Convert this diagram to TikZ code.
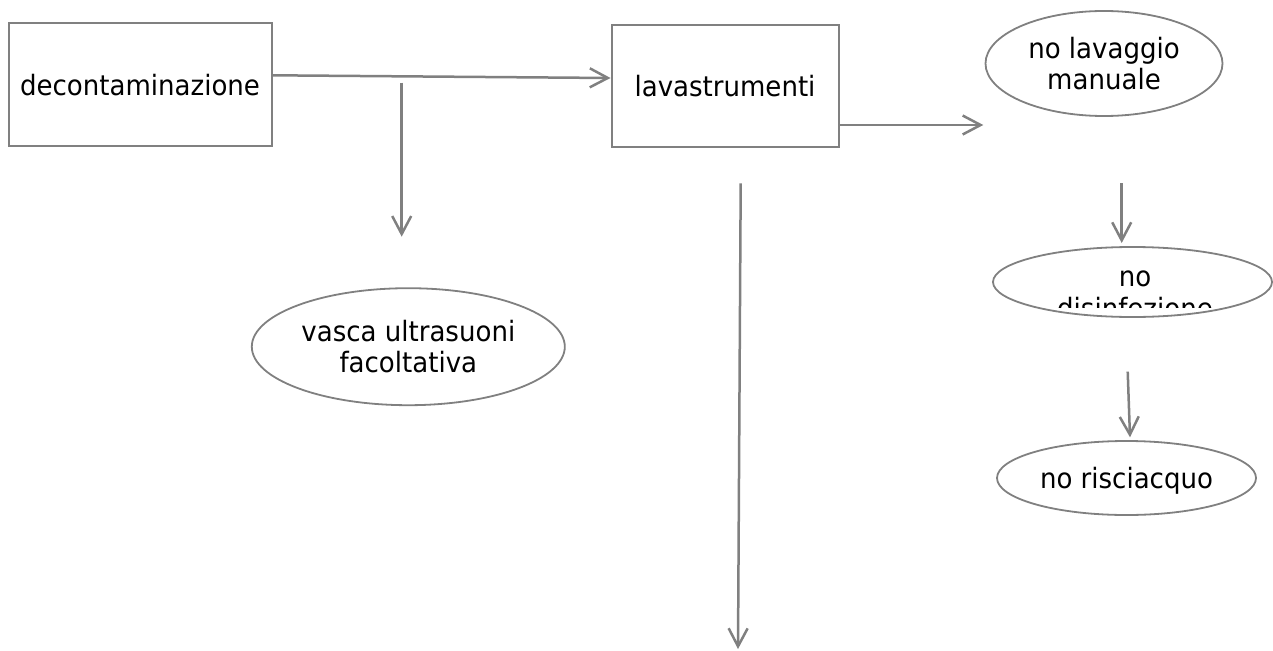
\documentclass[tikz,border=0pt]{standalone}
\usepackage{fontspec}
\setmainfont[FakeStretch=0.93]{DejaVu Sans}
\usetikzlibrary{arrows.meta,
	shapes}
\definecolor{lineg}{RGB}{128,128,128}

\begin{document}
\begin{tikzpicture}[x=1pt,y=-1pt]
    \tikzstyle{box}=[rectangle,draw=lineg,line width=2pt,inner sep=0pt,font=\fontsize{28}{31.6}\selectfont]
    \tikzstyle{oval}=[ellipse,draw=lineg,line width=1.8pt,inner sep=0pt,align=center,font=\fontsize{28}{31.6}\selectfont]
    \tikzstyle{txt}=[inner sep=0pt,align=center,font=\fontsize{28}{31.6}\selectfont]
    \tikzstyle{conn}=[draw=lineg,line width=2.5pt,-{Straight Barb[length=18pt,width=19pt]}]
    \useasboundingbox (0,0) rectangle (1273,650);
    \node[box,minimum width=263pt,minimum height=123pt] (b_1) at (140,84.7) {decontaminazione};
    \node[box,minimum width=227pt,minimum height=122pt] (b_2) at (725,86.2) {lavastrumenti};
    \node[oval,minimum width=313pt,minimum height=117pt] (e_1) at (408.3,346.7) {vasca ultrasuoni\\facoltativa};
    \node[oval,minimum width=237pt,minimum height=105pt] (e_2) at (1104,63.5) {no lavaggio\\manuale};
    \node[oval,minimum width=279pt,minimum height=70pt] (e_3) at (1132.5,282) {};
    \node[oval,minimum width=259pt,minimum height=74pt,text depth=0pt] (e_4) at (1126.5,478) {no risciacquo};
    \begin{scope}
      \clip (990,240) rectangle (1273,307);
      \node[txt] (t_3) at (1135,294.8) {no\\disinfezione};
    \end{scope}
    \coordinate (a_1) at (401.7,82.7);
    \coordinate (a_2) at (401.7,236.7);
    \coordinate (a_3) at (740.7,183.3);
    \coordinate (a_4) at (738,649);
    \coordinate (a_5) at (1121.7,183.3);
    \coordinate (a_6) at (1121.7,243);
    \coordinate (a_7) at (1127.7,371.7);
    \coordinate (a_8) at (1130,437.3);
    \coordinate (a_9) at (983.3,125);
    \draw[conn] ([yshift=9.4pt]b_1.east) -- ([yshift=8.2pt]b_2.west);
    \draw[conn] ([yshift=-38.8pt]b_2.east) -- (a_9);
    \draw[conn] (a_1) -- (a_2);
    \draw[conn] (a_3) -- (a_4);
    \draw[conn] (a_5) -- (a_6);
    \draw[conn] (a_7) -- (a_8);
\end{tikzpicture}
\end{document}
